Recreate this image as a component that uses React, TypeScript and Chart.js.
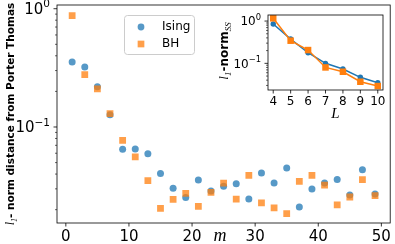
import React, { useEffect, useRef } from 'react';
import { Chart, registerables } from 'chart.js';

Chart.register(...registerables);

// ---------- data ----------
const mValues = [1, 3, 5, 7, 9, 11, 13, 15, 17, 19, 21, 23, 25, 27, 29, 31, 33, 35, 37, 39, 41, 43, 45, 47, 49];
const isingDistance = [0.354, 0.321, 0.219, 0.127, 0.0647, 0.0652, 0.0595, 0.0405, 0.0303, 0.0254, 0.0356, 0.0288, 0.0315, 0.0332, 0.0246, 0.0408, 0.0336, 0.045, 0.0211, 0.0299, 0.0336, 0.0359, 0.0266, 0.0435, 0.0271];
const bhDistance = [0.873, 0.277, 0.21, 0.13, 0.077, 0.0558, 0.0352, 0.0205, 0.0244, 0.0275, 0.0213, 0.028, 0.0336, 0.0246, 0.039, 0.0228, 0.0207, 0.0185, 0.0347, 0.039, 0.0323, 0.022, 0.0256, 0.0359, 0.0263];
const mTicks = [0, 10, 20, 30, 40, 50];
const distanceTicks = [0.1, 1];

const systemSizes = [4, 5, 6, 7, 8, 9, 10];
const isingNorm = [0.85, 0.375, 0.178, 0.1, 0.0733, 0.0467, 0.0348];
const bhNorm = [1.16, 0.343, 0.206, 0.08, 0.0633, 0.0367, 0.029];
const normTicks = [0.1, 1];

const seriesLabels = ['Ising', 'BH'];

// ---------- styles ----------
const BLUE = '#1f77b4';
const ORANGE = '#ff7f0e';
const BLUE_A = 'rgba(31,119,180,0.75)';
const ORANGE_A = 'rgba(255,127,14,0.75)';

const MINUS = '\u2212';

function drawDecadeLabel(ctx: CanvasRenderingContext2D, v: number, rightX: number, py: number, size: number) {
  const e = Math.round(Math.log10(v));
  const expText = e < 0 ? MINUS + String(-e) : String(e);
  const baseFont = `${size}px "DejaVu Sans"`;
  const supFont = `${size * 0.7}px "DejaVu Sans"`;
  ctx.save();
  ctx.fillStyle = '#000';
  ctx.textAlign = 'left';
  ctx.textBaseline = 'alphabetic';
  ctx.font = supFont;
  const supW = ctx.measureText(expText).width;
  ctx.font = baseFont;
  const baseW = ctx.measureText('10').width;
  const x0 = rightX - supW - baseW;
  const baseline = py + size * 0.729 / 2;
  ctx.fillText('10', x0, baseline);
  ctx.font = supFont;
  ctx.fillText(expText, x0 + baseW, baseline - size * 0.45);
  ctx.restore();
}

type Seg = { text: string; font: string; dy?: number };
function drawRich(ctx: CanvasRenderingContext2D, segs: Seg[], cx: number, cy: number, rotate: boolean, baseOff: number) {
  ctx.save();
  ctx.translate(cx, cy);
  if (rotate) ctx.rotate(-Math.PI / 2);
  let total = 0;
  const widths = segs.map((s) => {
    ctx.font = s.font;
    const w = ctx.measureText(s.text).width;
    total += w;
    return w;
  });
  let x = -total / 2;
  ctx.fillStyle = '#000';
  ctx.textAlign = 'left';
  ctx.textBaseline = 'alphabetic';
  segs.forEach((s, i) => {
    ctx.font = s.font;
    ctx.fillText(s.text, x, baseOff + (s.dy || 0));
    x += widths[i];
  });
  ctx.restore();
}

const axesFrame = {
  id: 'axesFrame',
  afterDatasetsDraw(chart: any) {
    const { ctx, chartArea: a } = chart;
    const x = chart.scales.x;
    const y = chart.scales.y;
    ctx.save();
    ctx.strokeStyle = '#000';
    const line = (x1: number, y1: number, x2: number, y2: number, lw: number) => {
      ctx.lineWidth = lw;
      ctx.beginPath();
      ctx.moveTo(x1, y1);
      ctx.lineTo(x2, y2);
      ctx.stroke();
    };
    x.ticks.forEach((t: any) => {
      const px = x.getPixelForValue(t.value);
      line(px, a.bottom, px, a.bottom + 3.5, 0.8);
    });
    const lo = Math.floor(Math.log10(y.min));
    const hi = Math.ceil(Math.log10(y.max));
    for (let d = lo; d <= hi; d++) {
      for (let k = 1; k <= 9; k++) {
        const v = k * Math.pow(10, d);
        if (v < y.min || v > y.max) continue;
        const py = y.getPixelForValue(v);
        if (k === 1) line(a.left, py, a.left - 3.5, py, 0.8);
        else line(a.left, py, a.left - 2, py, 0.6);
      }
    }
    ctx.lineWidth = 0.8;
    ctx.strokeRect(a.left, a.top, a.right - a.left, a.bottom - a.top);
    // y tick labels (10^n with raised exponent)
    const size = chart.options.scales.y.ticks.font.size;
    y.ticks.forEach((t: any) => {
      drawDecadeLabel(ctx, t.value, a.left - 7, y.getPixelForValue(t.value), size);
    });
    ctx.restore();
  },
};

const mainDecor = {
  id: 'mainDecor',
  afterDraw(chart: any) {
    const ctx: CanvasRenderingContext2D = chart.ctx;
    // x label
    ctx.save();
    ctx.font = 'italic 18px "Liberation Serif"';
    ctx.fillStyle = '#000';
    ctx.textAlign = 'center';
    ctx.textBaseline = 'alphabetic';
    ctx.fillText('m', 220, 241);
    ctx.restore();
    // y label
    drawRich(ctx, [
      { text: 'l', font: 'italic 12px "Liberation Serif"' },
      { text: '1', font: 'italic 8px "Liberation Serif"', dy: 3 },
      { text: '- norm distance from Porter Thomas', font: 'bold 10.5px "DejaVu Sans"' },
    ], 10, 114, true, 4);
    // legend
    ctx.save();
    ctx.beginPath();
    (ctx as any).roundRect(124.5, 15.5, 70, 39, 3);
    ctx.fillStyle = 'rgba(255,255,255,0.8)';
    ctx.fill();
    ctx.strokeStyle = '#cccccc';
    ctx.lineWidth = 1;
    ctx.stroke();
    const ds = chart.data.datasets;
    ctx.fillStyle = ds[0].backgroundColor;
    ctx.beginPath();
    ctx.arc(141, 27, 3.4, 0, Math.PI * 2);
    ctx.fill();
    ctx.fillStyle = ds[1].backgroundColor;
    ctx.fillRect(141 - 3.35, 44 - 3.35, 6.7, 6.7);
    ctx.fillStyle = '#000';
    ctx.font = '12px "DejaVu Sans"';
    ctx.textAlign = 'left';
    ctx.textBaseline = 'middle';
    ctx.fillText(ds[0].label, 162, 27);
    ctx.fillText(ds[1].label, 162, 44);
    ctx.restore();
  },
};

const insetDecor = {
  id: 'insetDecor',
  afterDraw(chart: any) {
    const ctx: CanvasRenderingContext2D = chart.ctx;
    ctx.save();
    ctx.font = 'italic 15px "Liberation Serif"';
    ctx.fillStyle = '#000';
    ctx.textAlign = 'center';
    ctx.textBaseline = 'alphabetic';
    ctx.fillText('L', 120.5, 110);
    ctx.restore();
    drawRich(ctx, [
      { text: 'l', font: 'italic 13px "Liberation Serif"' },
      { text: '1', font: 'italic 9px "Liberation Serif"', dy: 3 },
      { text: '-norm', font: 'bold 12px "DejaVu Sans"' },
      { text: 'SS', font: 'italic 9px "Liberation Serif"', dy: 3 },
    ], 8.5, 43, true, 4);
  },
};

const zeroPad = (s: any) => {
  s.paddingTop = 0;
  s.paddingBottom = 0;
  s.paddingLeft = 0;
  s.paddingRight = 0;
};

export default function App() {
  const mainRef = useRef<HTMLCanvasElement>(null);
  const insetRef = useRef<HTMLCanvasElement>(null);

  useEffect(() => {
    const tickFont = { family: 'DejaVu Sans', size: 15 };
    const mainChart = new Chart(mainRef.current as HTMLCanvasElement, {
      type: 'scatter',
      data: {
        datasets: [
          {
            label: seriesLabels[0],
            data: mValues.map((m, i) => ({ x: m, y: isingDistance[i] })),
            pointStyle: 'circle',
            pointRadius: 3.5,
            backgroundColor: BLUE_A,
            borderWidth: 0,
            order: 1,
          },
          {
            label: seriesLabels[1],
            data: mValues.map((m, i) => ({ x: m, y: bhDistance[i] })),
            pointStyle: 'rect',
            pointRadius: 4.8,
            backgroundColor: ORANGE_A,
            borderWidth: 0,
            order: 0,
          },
        ],
      },
      options: {
        responsive: false,
        maintainAspectRatio: false,
        animation: false,
        events: [],
        layout: { padding: { top: 5, right: 2, left: 0, bottom: 0 } },
        plugins: { legend: { display: false }, tooltip: { enabled: false } },
        scales: {
          x: {
            type: 'linear',
            position: 'bottom',
            min: -1.4,
            max: 51.4,
            grid: { display: false, drawTicks: false },
            border: { display: false },
            afterBuildTicks: (s: any) => {
              s.ticks = mTicks.map((v) => ({ value: v }));
            },
            afterFit: (s: any) => {
              s.height = 21;
              zeroPad(s);
            },
            ticks: {
              autoSkip: false,
              maxRotation: 0,
              padding: 5,
              color: '#000',
              font: tickFont,
              callback: (v: any) => String(v),
            },
          },
          y: {
            type: 'logarithmic',
            min: 0.01543,
            max: 1.075,
            grid: { display: false, drawTicks: false },
            border: { display: false },
            afterBuildTicks: (s: any) => {
              s.ticks = distanceTicks.map((v) => ({ value: v }));
            },
            afterFit: (s: any) => {
              s.width = 57;
              zeroPad(s);
            },
            ticks: {
              display: false,
              autoSkip: false,
              font: tickFont,
            },
          },
        },
      } as any,
      plugins: [axesFrame, mainDecor],
    });

    const insetFont = { family: 'DejaVu Sans', size: 12 };
    const insetChart = new Chart(insetRef.current as HTMLCanvasElement, {
      type: 'line',
      data: {
        datasets: [
          {
            label: seriesLabels[0],
            data: systemSizes.map((L, i) => ({ x: L, y: isingNorm[i] })),
            borderColor: BLUE,
            backgroundColor: BLUE,
            borderWidth: 1.5,
            pointStyle: 'circle',
            pointRadius: 2.7,
            pointBorderWidth: 0,
            tension: 0,
            order: 1,
          },
          {
            label: seriesLabels[1],
            data: systemSizes.map((L, i) => ({ x: L, y: bhNorm[i] })),
            borderColor: ORANGE,
            backgroundColor: ORANGE,
            borderWidth: 1.5,
            pointStyle: 'rect',
            pointRadius: 4.6,
            pointBorderWidth: 0,
            tension: 0,
            order: 0,
          },
        ],
      },
      options: {
        responsive: false,
        maintainAspectRatio: false,
        animation: false,
        events: [],
        layout: { padding: { top: 7, right: 7, left: 0, bottom: 0 } },
        plugins: { legend: { display: false }, tooltip: { enabled: false } },
        scales: {
          x: {
            type: 'linear',
            min: 3.7,
            max: 10.3,
            grid: { display: false, drawTicks: false },
            border: { display: false },
            afterBuildTicks: (s: any) => {
              s.ticks = systemSizes.map((v) => ({ value: v }));
            },
            afterFit: (s: any) => {
              s.height = 32;
              zeroPad(s);
            },
            ticks: {
              autoSkip: false,
              maxRotation: 0,
              padding: 5,
              color: '#000',
              font: insetFont,
              callback: (v: any) => String(v),
            },
          },
          y: {
            type: 'logarithmic',
            min: 0.0234,
            max: 1.39,
            grid: { display: false, drawTicks: false },
            border: { display: false },
            afterBuildTicks: (s: any) => {
              s.ticks = normTicks.map((v) => ({ value: v }));
            },
            afterFit: (s: any) => {
              s.width = 53;
              zeroPad(s);
            },
            ticks: {
              display: false,
              autoSkip: false,
              font: insetFont,
            },
          },
        },
      } as any,
      plugins: [axesFrame, insetDecor],
    });

    return () => {
      mainChart.destroy();
      insetChart.destroy();
    };
  }, []);

  return (
    <div style={{ position: 'absolute', left: 0, top: 0, width: 395, height: 244, background: '#fff' }}>
      <canvas ref={mainRef} width={395} height={244} style={{ position: 'absolute', left: 0, top: 0 }} />
      <canvas ref={insetRef} width={175} height={114} style={{ position: 'absolute', left: 215, top: 8 }} />
    </div>
  );
}
